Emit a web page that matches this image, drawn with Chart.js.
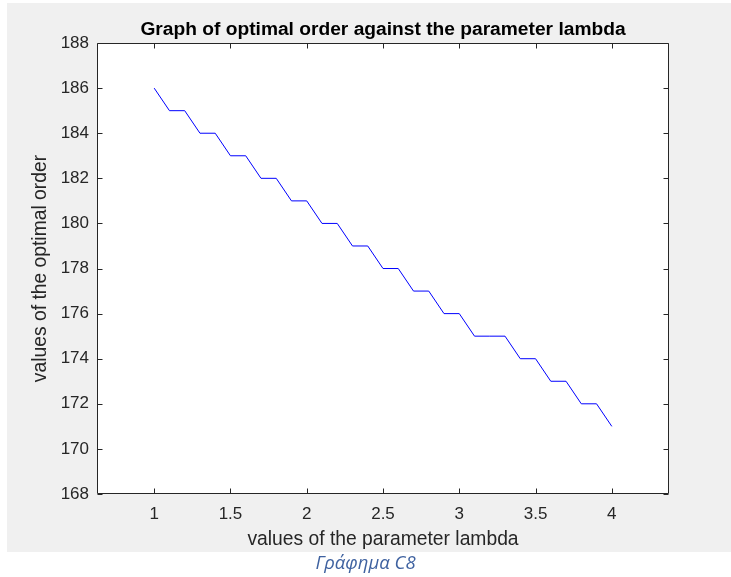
<!DOCTYPE html>
<html><head><meta charset="utf-8">
<script src="https://cdn.jsdelivr.net/npm/chart.js@4/dist/chart.umd.min.js"></script>
<style>
html,body{margin:0;padding:0;background:#fff;}
#wrap{position:relative;width:731px;height:577px;overflow:hidden;}
canvas{position:absolute;left:0;top:0;}
#cap{position:absolute;left:0;width:731px;top:551px;line-height:22px;text-align:center;font-family:"Open Sans";font-style:italic;font-size:18.5px;color:#3f62a0;}
</style></head><body>
<div id="wrap"><canvas id="c" width="731" height="577"></canvas><div id="cap">Γράφημα C8</div></div>
<script>
const lambdaValues = [1.0,1.1,1.2,1.3,1.4,1.5,1.6,1.7,1.8,1.9,2.0,2.1,2.2,2.3,2.4,2.5,2.6,2.7,2.8,2.9,3.0,3.1,3.2,3.3,3.4,3.5,3.6,3.7,3.8,3.9,4.0];
const optimalOrder = [186,185,185,184,184,183,183,182,182,181,181,180,180,179,179,178,178,177,177,176,176,175,175,175,174,174,173,173,172,172,171];
const xTickValues = [1,1.5,2,2.5,3,3.5,4];
const yTickValues = [168,170,172,174,176,178,180,182,184,186,188];
const chartTitle = 'Graph of optimal order against the parameter lambda';
const xAxisTitle = 'values of the parameter lambda';
const yAxisTitle = 'values of the optimal order';

const points = lambdaValues.map((x,i)=>({x:x,y:optimalOrder[i]}));
const FONT = '"Liberation Sans", Arial, Helvetica, sans-serif';
const AX = '#262626';

const frame = {
  id:'frame',
  beforeDraw(chart){
    const ctx=chart.ctx,a=chart.chartArea;
    ctx.save();
    ctx.fillStyle='#fff'; ctx.fillRect(0,0,chart.width,chart.height);
    ctx.fillStyle='#f0f0f0'; ctx.fillRect(7,3,chart.width-7,549);
    ctx.fillStyle='#fff'; ctx.fillRect(a.left,a.top,a.right-a.left,a.bottom-a.top);
    ctx.restore();
  },
  afterDraw(chart){
    const ctx=chart.ctx,a=chart.chartArea,xs=chart.scales.x,ys=chart.scales.y;
    const L=Math.round(a.left)+0.5,R=Math.round(a.right)-0.5,T=Math.round(a.top)+0.5,B=Math.round(a.bottom)-0.5;
    ctx.save();
    ctx.strokeStyle=AX; ctx.lineWidth=1;
    ctx.beginPath();
    ctx.moveTo(L,T);ctx.lineTo(R,T);ctx.lineTo(R,B);ctx.lineTo(L,B);ctx.closePath();
    const tl=5;
    xs.ticks.forEach(t=>{const p=Math.round(xs.getPixelForValue(t.value))+0.5;
      ctx.moveTo(p,B);ctx.lineTo(p,B-tl);ctx.moveTo(p,T);ctx.lineTo(p,T+tl);});
    ys.ticks.forEach(t=>{const p=Math.round(ys.getPixelForValue(t.value))+0.5;
      ctx.moveTo(L,p);ctx.lineTo(L+tl,p);ctx.moveTo(R,p);ctx.lineTo(R-tl,p);});
    ctx.stroke();
    ctx.restore();
  }
};

new Chart(document.getElementById('c'),{
  type:'line',
  data:{datasets:[{data:points,borderColor:'#0000ff',borderWidth:1,pointRadius:0,tension:0,fill:false}]},
  options:{
    responsive:false,animation:false,devicePixelRatio:1,
    layout:{padding:{left:0,right:62,top:0,bottom:0}},
    plugins:{
      legend:{display:false},tooltip:{enabled:false},
      title:{display:true,fullSize:false,align:'center',text:chartTitle,color:'#000',font:{family:FONT,size:19.2,weight:'bold',lineHeight:1.2},padding:{top:18,bottom:2}}
    },
    scales:{
      x:{type:'linear',min:0.625,max:4.375,
        afterBuildTicks:s=>{s.ticks=xTickValues.map(v=>({value:v}));},
        afterFit:s=>{s.height=83;},
        grid:{display:false,drawTicks:false},border:{display:false},
        ticks:{color:AX,padding:10,maxRotation:0,font:{family:FONT,size:17,lineHeight:1.2},callback:v=>String(v)},
        title:{display:true,text:xAxisTitle,color:AX,font:{family:FONT,size:19.3,lineHeight:1.2},padding:{top:0,bottom:26}}
      },
      y:{type:'linear',min:168,max:188,
        afterBuildTicks:s=>{s.ticks=yTickValues.map(v=>({value:v}));},
        afterFit:s=>{s.width=97;},
        grid:{display:false,drawTicks:false},border:{display:false},
        ticks:{color:AX,padding:8,font:{family:FONT,size:17,lineHeight:1.2},callback:v=>String(v)},
        title:{display:true,text:yAxisTitle,color:AX,font:{family:FONT,size:19.3,lineHeight:1.2},padding:{top:29,bottom:0}}
      }
    }
  },
  plugins:[frame]
});
</script>
</body></html>
